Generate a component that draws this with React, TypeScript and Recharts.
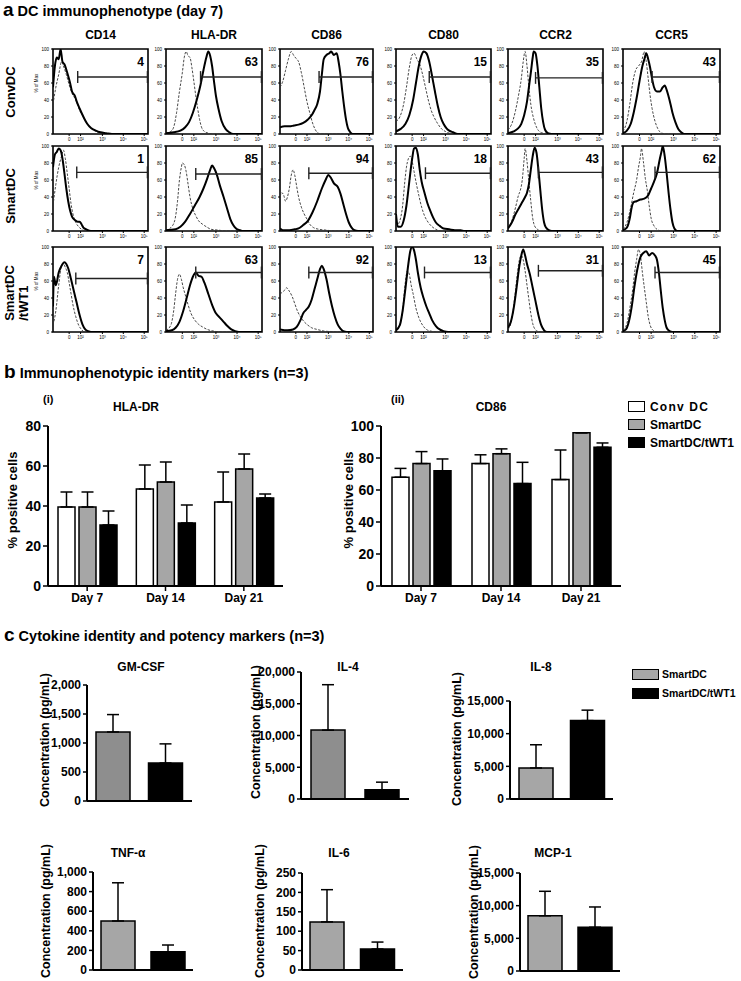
import React from 'react';
import {
  LineChart,
  Line,
  XAxis,
  YAxis,
  ReferenceLine,
  ReferenceArea,
  BarChart,
  Bar,
  ErrorBar,
  Cell,
} from 'recharts';

type Pt = [number, number];

const FONT = '"Liberation Sans", Arial, Helvetica, sans-serif';

// ---------- a: flow cytometry histograms (day 7) ----------
const MARKERS = ['CD14', 'HLA-DR', 'CD86', 'CD80', 'CCR2', 'CCR5'];
const PCT_POSITIVE = [
  [4, 63, 76, 15, 35, 43],
  [1, 85, 94, 18, 43, 62],
  [7, 63, 92, 13, 31, 45],
];
const GATE_START = [
  [26, 36, 42, 35, 29, 30],
  [25, 31, 31, 31, 32, 33],
  [24, 31, 31, 30, 32, 33],
];
const GATE_LEVEL = [
  [67, 67, 67, 67, 66, 67],
  [69, 67, 68, 68, 69, 69],
  [63, 70, 70, 70, 72, 70],
];
const FL_TICKS = [17, 29, 52, 74, 96];
const FL_TICK_LABELS = ['0', '10²', '10³', '10⁴', '10⁵'];
const PCT_MAX_TICKS = [0, 20, 40, 60, 80, 100];

// solid = stained, dashed = isotype; [fluorescence position, % of max]
const CONV_SOLID: Pt[][] = [
  [[0, 55], [2, 80], [4, 90], [6, 88], [8, 100], [10, 85], [12, 82], [15, 72], [18, 60], [20, 50], [23, 45], [25, 38], [28, 30], [30, 25], [33, 18], [36, 12], [40, 7], [45, 4], [50, 2], [56, 1], [62, 0], [100, 0]],
  [[0, 1], [8, 2], [15, 4], [20, 8], [24, 14], [28, 25], [32, 40], [36, 58], [39, 75], [42, 90], [44, 97], [46, 92], [48, 80], [50, 62], [52, 45], [55, 28], [58, 15], [62, 6], [66, 2], [70, 0], [100, 0]],
  [[0, 8], [5, 9], [10, 9], [15, 10], [20, 11], [25, 13], [30, 17], [34, 22], [37, 28], [40, 35], [43, 50], [45, 70], [47, 88], [50, 93], [53, 95], [55, 97], [58, 93], [61, 95], [63, 85], [65, 70], [67, 50], [69, 32], [71, 17], [73, 7], [75, 3], [78, 0], [100, 0]],
  [[0, 3], [5, 6], [10, 12], [14, 22], [18, 40], [21, 60], [24, 80], [27, 93], [29, 97], [32, 95], [35, 85], [38, 68], [41, 50], [44, 33], [47, 20], [50, 12], [53, 7], [56, 4], [60, 2], [65, 0], [100, 0]],
  [[0, 1], [6, 3], [10, 6], [14, 12], [17, 22], [20, 38], [22, 55], [24, 72], [26, 90], [27, 97], [29, 95], [31, 80], [33, 55], [35, 30], [37, 14], [39, 5], [42, 1], [46, 0], [100, 0]],
  [[0, 1], [4, 4], [8, 12], [11, 25], [14, 42], [17, 62], [20, 80], [22, 88], [24, 95], [26, 88], [28, 78], [30, 65], [32, 55], [35, 50], [38, 50], [41, 55], [43, 57], [45, 52], [47, 44], [49, 35], [51, 25], [54, 14], [57, 6], [60, 2], [63, 0], [100, 0]],
];
const CONV_DASHED: Pt[][] = [
  [[0, 35], [3, 55], [6, 70], [9, 85], [11, 80], [14, 70], [17, 58], [20, 48], [24, 40], [28, 28], [32, 20], [36, 12], [40, 7], [45, 3], [50, 1], [56, 0], [100, 0]],
  [[0, 1], [5, 3], [8, 8], [11, 25], [14, 50], [17, 72], [19, 90], [21, 97], [23, 92], [25, 90], [27, 78], [29, 62], [31, 45], [33, 30], [35, 17], [37, 8], [40, 3], [44, 1], [50, 0], [100, 0]],
  [[0, 55], [3, 62], [6, 75], [9, 88], [12, 97], [15, 92], [18, 88], [20, 85], [23, 72], [26, 55], [29, 38], [32, 25], [35, 13], [38, 5], [41, 1], [45, 0], [100, 0]],
  [[0, 15], [4, 20], [8, 35], [11, 55], [14, 78], [17, 93], [19, 95], [22, 88], [25, 82], [28, 70], [31, 55], [34, 40], [37, 28], [40, 20], [44, 12], [48, 6], [52, 3], [56, 1], [62, 0], [100, 0]],
  [[0, 5], [4, 12], [8, 28], [11, 45], [14, 65], [16, 85], [18, 97], [20, 80], [22, 55], [24, 35], [27, 18], [30, 8], [33, 3], [37, 1], [42, 0], [100, 0]],
  [[0, 3], [4, 15], [7, 35], [10, 60], [13, 75], [16, 80], [19, 85], [22, 97], [24, 85], [26, 65], [28, 45], [30, 30], [33, 15], [36, 6], [40, 1], [45, 0], [100, 0]],
];
const SMART_SOLID: Pt[][] = [
  [[0, 75], [2, 90], [4, 93], [6, 97], [8, 95], [10, 85], [12, 68], [14, 50], [16, 35], [18, 24], [20, 17], [23, 13], [26, 11], [28, 11], [30, 8], [32, 4], [35, 2], [40, 0], [100, 0]],
  [[0, 1], [10, 2], [15, 5], [20, 11], [25, 20], [30, 30], [35, 40], [39, 50], [43, 62], [46, 72], [48, 77], [50, 74], [53, 66], [56, 54], [60, 40], [64, 25], [67, 14], [70, 7], [73, 3], [77, 1], [80, 0], [100, 0]],
  [[0, 3], [3, 1], [10, 1], [16, 2], [20, 3], [25, 7], [30, 12], [35, 22], [40, 35], [45, 50], [49, 60], [52, 66], [55, 62], [58, 56], [62, 52], [65, 44], [68, 32], [71, 20], [74, 10], [77, 4], [80, 1], [84, 0], [100, 0]],
  [[0, 20], [2, 5], [5, 5], [8, 12], [11, 30], [14, 58], [17, 85], [19, 97], [21, 98], [23, 90], [25, 72], [27, 58], [30, 45], [33, 33], [36, 24], [39, 16], [42, 10], [46, 6], [50, 3], [56, 2], [62, 1], [68, 1], [72, 0], [100, 0]],
  [[0, 3], [4, 10], [8, 20], [12, 28], [15, 34], [18, 40], [20, 45], [22, 55], [24, 72], [26, 88], [28, 98], [30, 92], [32, 72], [34, 48], [36, 25], [38, 10], [40, 4], [43, 1], [46, 0], [100, 0]],
  [[0, 1], [4, 4], [7, 15], [9, 28], [11, 34], [14, 35], [18, 37], [22, 38], [26, 42], [29, 50], [32, 58], [35, 68], [38, 85], [40, 95], [41, 100], [43, 88], [45, 68], [47, 45], [49, 25], [51, 10], [53, 3], [56, 0], [100, 0]],
];
const SMART_DASHED: Pt[][] = [
  [[0, 30], [3, 55], [6, 75], [9, 88], [11, 95], [13, 85], [15, 68], [17, 50], [19, 32], [21, 20], [24, 10], [27, 5], [30, 2], [35, 0], [100, 0]],
  [[0, 1], [5, 4], [9, 12], [12, 35], [14, 60], [16, 75], [17, 80], [19, 78], [21, 70], [23, 55], [25, 40], [28, 26], [31, 18], [34, 12], [38, 8], [42, 5], [47, 2], [55, 1], [62, 0], [100, 0]],
  [[0, 40], [2, 45], [4, 42], [6, 35], [8, 40], [10, 50], [12, 65], [14, 72], [16, 65], [18, 52], [20, 40], [23, 28], [26, 20], [29, 14], [32, 8], [36, 4], [42, 2], [50, 1], [58, 0], [100, 0]],
  [[0, 5], [4, 12], [7, 30], [9, 55], [11, 75], [13, 85], [15, 88], [17, 82], [19, 70], [21, 58], [24, 42], [27, 28], [30, 18], [34, 10], [38, 5], [42, 2], [47, 0], [100, 0]],
  [[0, 3], [4, 12], [8, 28], [11, 42], [13, 48], [15, 60], [17, 85], [18, 97], [20, 82], [22, 58], [24, 35], [26, 15], [28, 6], [31, 2], [35, 0], [100, 0]],
  [[0, 2], [4, 10], [8, 28], [11, 45], [14, 60], [16, 75], [18, 88], [19, 97], [21, 82], [23, 62], [25, 48], [27, 30], [29, 15], [32, 6], [35, 2], [40, 0], [100, 0]],
];
const WT1_SOLID: Pt[][] = [
  [[0, 30], [1, 65], [3, 55], [6, 70], [9, 78], [12, 82], [14, 80], [16, 75], [19, 62], [22, 48], [25, 34], [28, 20], [31, 9], [34, 3], [37, 1], [40, 0], [100, 0]],
  [[0, 1], [6, 2], [10, 5], [14, 12], [18, 25], [22, 42], [25, 55], [28, 65], [31, 70], [34, 66], [37, 65], [40, 58], [44, 45], [48, 32], [52, 22], [56, 17], [60, 12], [64, 7], [68, 3], [72, 1], [76, 0], [100, 0]],
  [[0, 3], [8, 2], [14, 3], [18, 6], [22, 14], [25, 22], [28, 26], [31, 30], [34, 38], [37, 50], [40, 62], [43, 74], [45, 78], [47, 74], [50, 62], [53, 45], [56, 30], [59, 18], [62, 9], [65, 4], [68, 1], [72, 0], [100, 0]],
  [[0, 2], [4, 8], [7, 25], [10, 52], [13, 80], [15, 95], [17, 100], [19, 96], [21, 85], [23, 70], [26, 52], [29, 40], [32, 30], [35, 22], [38, 14], [42, 7], [46, 3], [50, 1], [55, 0], [100, 0]],
  [[0, 5], [3, 12], [6, 28], [9, 52], [12, 78], [14, 90], [16, 97], [18, 90], [20, 80], [23, 68], [26, 52], [29, 36], [32, 20], [35, 8], [38, 2], [41, 0], [100, 0]],
  [[0, 1], [3, 3], [6, 12], [9, 30], [12, 55], [15, 75], [18, 88], [21, 93], [24, 95], [27, 90], [30, 93], [33, 90], [35, 85], [37, 70], [39, 48], [41, 28], [43, 14], [45, 5], [48, 1], [51, 0], [100, 0]],
];
const WT1_DASHED: Pt[][] = [
  [[0, 8], [3, 25], [6, 55], [9, 78], [11, 80], [13, 76], [15, 70], [17, 58], [19, 45], [21, 32], [24, 18], [27, 8], [30, 3], [33, 0], [100, 0]],
  [[0, 2], [5, 8], [8, 25], [10, 45], [12, 62], [14, 68], [16, 62], [18, 52], [20, 44], [23, 32], [26, 22], [30, 14], [34, 9], [38, 6], [43, 3], [50, 1], [58, 0], [100, 0]],
  [[0, 45], [4, 48], [7, 52], [10, 48], [13, 42], [16, 33], [19, 24], [22, 18], [26, 12], [30, 8], [34, 5], [40, 3], [48, 1], [56, 0.5], [62, 0], [100, 0]],
  [[0, 2], [4, 8], [7, 25], [9, 50], [11, 68], [12, 72], [14, 68], [16, 55], [18, 45], [21, 28], [24, 17], [28, 8], [32, 3], [37, 1], [42, 0], [100, 0]],
  [[0, 3], [4, 15], [7, 40], [10, 70], [12, 85], [14, 90], [16, 85], [18, 72], [20, 55], [22, 38], [24, 22], [26, 10], [28, 4], [31, 1], [35, 0], [100, 0]],
  [[0, 2], [4, 10], [7, 28], [10, 50], [12, 70], [14, 85], [16, 97], [18, 90], [20, 70], [22, 52], [24, 35], [26, 18], [28, 8], [31, 2], [35, 0], [100, 0]],
];
const HIST_SOLID = [CONV_SOLID, SMART_SOLID, WT1_SOLID];
const HIST_DASHED = [CONV_DASHED, SMART_DASHED, WT1_DASHED];

// ---------- b: identity markers (n=3) ----------
const DAYS = ['Day 7', 'Day 14', 'Day 21'];
const HLA_CONV = [39.5, 48.5, 42];
const HLA_CONV_ERR = [7.5, 12, 15];
const HLA_SMART = [39.5, 52, 58.5];
const HLA_SMART_ERR = [7.5, 10, 7.5];
const HLA_WT1 = [30.5, 31.5, 44];
const HLA_WT1_ERR = [7, 9, 2];
const CD86_CONV = [68, 76.5, 66.5];
const CD86_CONV_ERR = [5.5, 5.5, 18.5];
const CD86_SMART = [76.5, 82.7, 95.8];
const CD86_SMART_ERR = [7.5, 3, 0];
const CD86_WT1 = [72, 64, 86.7];
const CD86_WT1_ERR = [7.4, 13.3, 2.7];

// ---------- c: cytokines (n=3), [SmartDC, SmartDC/tWT1] ----------
const GMCSF = [1190, 655];
const GMCSF_ERR = [300, 330];
const IL4 = [10850, 1450];
const IL4_ERR = [7150, 1200];
const IL8 = [4750, 12000];
const IL8_ERR = [3550, 1600];
const TNFA = [500, 185];
const TNFA_ERR = [390, 70];
const IL6 = [124, 54];
const IL6_ERR = [83, 18];
const MCP1 = [8450, 6700];
const MCP1_ERR = [3750, 3100];

const GREY = '#a6a6a6';
const DARK_GREY = '#8e8e8e';

const BOX_LEFT = [53, 166, 280, 396, 508, 623];
const BOX_W = [95, 96, 93, 95, 95, 97];
const ROW_TOP = [49, 146, 247];
const BOX_H = 85;

function Txt({ x, y, size, anchor = 'start', bold = true, spacing, children }: any) {
  const tx = anchor === 'middle' ? '-50%' : anchor === 'end' ? '-100%' : '0';
  return (
    <div
      style={{
        position: 'absolute',
        left: x,
        top: y,
        fontSize: size,
        fontWeight: bold ? 'bold' : 'normal',
        transform: `translate(${tx}, -50%)`,
        whiteSpace: 'pre',
        lineHeight: 1.05,
        letterSpacing: spacing,
      }}
    >
      {children}
    </div>
  );
}

function VTxt({ x, y, size, bold = true, children }: any) {
  return (
    <div
      style={{
        position: 'absolute',
        left: x,
        top: y,
        fontSize: size,
        fontWeight: bold ? 'bold' : 'normal',
        transform: 'translate(-50%, -50%) rotate(-90deg)',
        whiteSpace: 'pre',
        lineHeight: 1.1,
        textAlign: 'left',
      }}
    >
      {children}
    </div>
  );
}

function Histogram({ row, col }: { row: number; col: number }) {
  const w = BOX_W[col];
  const solid = HIST_SOLID[row][col].map(([x, y]) => ({ x, y }));
  const dashed = HIST_DASHED[row][col].map(([x, y]) => ({ x, y }));
  const gs = GATE_START[row][col];
  const gl = GATE_LEVEL[row][col];
  const tickStyle = { fontSize: 4.5, fill: '#000' };
  return (
    <div style={{ position: 'absolute', left: BOX_LEFT[col] - 18, top: ROW_TOP[row] - 3 }}>
      <LineChart width={w + 20} height={BOX_H + 3 + 12} margin={{ top: 3, right: 2, left: 0, bottom: 0 }}>
        <XAxis
          type="number"
          dataKey="x"
          domain={[0, 100]}
          allowDataOverflow
          ticks={FL_TICKS}
          interval={0}
          tickFormatter={(v: number) => FL_TICK_LABELS[FL_TICKS.indexOf(v)]}
          axisLine={false}
          tickLine={{ stroke: '#000' }}
          tickSize={2}
          tick={tickStyle}
          height={12}
        />
        <YAxis
          type="number"
          domain={[0, 100]}
          allowDataOverflow
          ticks={PCT_MAX_TICKS}
          interval={0}
          width={18}
          axisLine={false}
          tickLine={{ stroke: '#000' }}
          tickSize={2}
          tick={tickStyle}
        />
        <Line
          data={dashed}
          dataKey="y"
          type="monotone"
          stroke="#333"
          strokeWidth={0.9}
          strokeDasharray="2.5 1.5"
          dot={false}
          isAnimationActive={false}
        />
        <Line
          data={solid}
          dataKey="y"
          type="monotone"
          stroke="#000"
          strokeWidth={2}
          dot={false}
          isAnimationActive={false}
        />
        <ReferenceLine segment={[{ x: gs, y: gl }, { x: 100, y: gl }]} stroke="#222" strokeWidth={1.4} />
        <ReferenceLine segment={[{ x: gs, y: gl - 7 }, { x: gs, y: gl + 7 }]} stroke="#222" strokeWidth={1.4} />
        <ReferenceLine segment={[{ x: 99.5, y: gl - 7 }, { x: 99.5, y: gl + 7 }]} stroke="#222" strokeWidth={1.6} />
        <ReferenceArea x1={0} x2={100} y1={0} y2={100} fill="none" stroke="#000" strokeWidth={1.6} />
      </LineChart>
      <Txt x={w + 14} y={16} size={12} anchor="end">
        {PCT_POSITIVE[row][col]}
      </Txt>
    </div>
  );
}

function DayBars({ left, plotW, max, ticks, conv, convErr, smart, smartErr, wt1, wt1Err }: any) {
  const data = DAYS.map((day, i) => ({
    day,
    conv: conv[i],
    convErr: [0, convErr[i]],
    smart: smart[i],
    smartErr: [0, smartErr[i]],
    wt1: wt1[i],
    wt1Err: [0, wt1Err[i]],
  }));
  const eb = { width: 6, stroke: '#000', strokeWidth: 1.5 };
  return (
    <div style={{ position: 'absolute', left, top: 416 }}>
      <BarChart
        width={46 + plotW + 4}
        height={200}
        data={data}
        margin={{ top: 10, right: 4, left: 0, bottom: 0 }}
        barSize={17}
        barGap={4}
      >
        <XAxis
          dataKey="day"
          interval={0}
          axisLine={{ stroke: '#000', strokeWidth: 2 }}
          tickLine={{ stroke: '#000', strokeWidth: 1.5 }}
          tickSize={5}
          tick={{ fontSize: 12, fontWeight: 'bold', fill: '#000' }}
          height={30}
        />
        <YAxis
          type="number"
          domain={[0, max]}
          ticks={ticks}
          interval={0}
          width={46}
          axisLine={{ stroke: '#000', strokeWidth: 2 }}
          tickLine={{ stroke: '#000', strokeWidth: 1.5 }}
          tickSize={5}
          tick={{ fontSize: 14, fontWeight: 'bold', fill: '#000' }}
        />
        <Bar dataKey="conv" fill="#fff" stroke="#000" strokeWidth={1.5} isAnimationActive={false}>
          <ErrorBar dataKey="convErr" direction="y" {...eb} />
        </Bar>
        <Bar dataKey="smart" fill={GREY} stroke="#000" strokeWidth={1.5} isAnimationActive={false}>
          <ErrorBar dataKey="smartErr" direction="y" {...eb} />
        </Bar>
        <Bar dataKey="wt1" fill="#000" stroke="#000" strokeWidth={1.5} isAnimationActive={false}>
          <ErrorBar dataKey="wt1Err" direction="y" {...eb} />
        </Bar>
      </BarChart>
    </div>
  );
}

function CytoBars({ plotLeft, plotRight, plotTop, plotBottom, max, ticks, values, errs, grey }: any) {
  const data = ['SmartDC', 'SmartDC/tWT1'].map((g, i) => ({ g, v: values[i], e: [0, errs[i]] }));
  const plotW = plotRight - plotLeft;
  const plotH = plotBottom - plotTop;
  return (
    <div style={{ position: 'absolute', left: plotLeft - 52, top: plotTop - 8 }}>
      <BarChart
        width={52 + plotW + 4}
        height={8 + plotH + 4 + 10}
        data={data}
        margin={{ top: 8, right: 4, left: 0, bottom: 10 }}
        barSize={34}
      >
        <XAxis dataKey="g" tick={false} tickLine={false} axisLine={{ stroke: '#000', strokeWidth: 2 }} height={4} />
        <YAxis
          type="number"
          domain={[0, max]}
          ticks={ticks}
          interval={0}
          width={52}
          tickFormatter={(v: number) => v.toLocaleString('en-US')}
          axisLine={{ stroke: '#000', strokeWidth: 2 }}
          tickLine={{ stroke: '#000', strokeWidth: 1.5 }}
          tickSize={4}
          tick={{ fontSize: 12, fontWeight: 'bold', fill: '#000' }}
        />
        <Bar dataKey="v" stroke="#000" strokeWidth={1.5} isAnimationActive={false}>
          {data.map((d, i) => (
            <Cell key={d.g} fill={i === 0 ? grey : '#000'} />
          ))}
          <ErrorBar dataKey="e" direction="y" width={6} stroke="#000" strokeWidth={1.5} />
        </Bar>
      </BarChart>
    </div>
  );
}

function LegendRow({ x, y, w, fill, label, spacing, size = 12, gap = 5 }: any) {
  return (
    <>
      <div
        style={{
          position: 'absolute',
          left: x,
          top: y - 6,
          width: w,
          height: 11,
          background: fill,
          border: '1.5px solid #000',
          boxSizing: 'border-box',
        }}
      />
      <Txt x={x + w + gap} y={y} size={size} spacing={spacing}>
        {label}
      </Txt>
    </>
  );
}

export default function App() {
  return (
    <div
      style={{
        position: 'absolute',
        left: 0,
        top: 0,
        width: 741,
        height: 981,
        background: '#fff',
        fontFamily: FONT,
        color: '#000',
        overflow: 'hidden',
      }}
    >
      {/* a */}
      <Txt x={3} y={10} size={14.5}>
        <span style={{ fontSize: 19 }}>a</span> DC immunophenotype (day 7)
      </Txt>
      {MARKERS.map((m, c) => (
        <Txt key={m} x={BOX_LEFT[c] + BOX_W[c] / 2} y={35} size={12} anchor="middle">
          {m}
        </Txt>
      ))}
      <VTxt x={11} y={92} size={13}>ConvDC</VTxt>
      <VTxt x={11} y={196} size={13}>SmartDC</VTxt>
      <VTxt x={17} y={293} size={13}>{'SmartDC\n/tWT1'}</VTxt>
      {ROW_TOP.map((t, r) => (
        <VTxt key={r} x={37} y={t + 34} size={4.5} bold={false}>% of Max</VTxt>
      ))}
      {ROW_TOP.map((_, r) => MARKERS.map((m, c) => <Histogram key={`${r}-${m}`} row={r} col={c} />))}

      {/* b */}
      <Txt x={4} y={372} size={14.5}>
        <span style={{ fontSize: 19 }}>b</span> Immunophenotypic identity markers (n=3)
      </Txt>
      <Txt x={43} y={400} size={11}>(i)</Txt>
      <Txt x={136} y={407} size={12} anchor="middle">HLA-DR</Txt>
      <Txt x={391} y={400} size={11}>(ii)</Txt>
      <Txt x={491} y={407} size={12} anchor="middle">CD86</Txt>
      <VTxt x={13} y={500} size={13}>% positive cells</VTxt>
      <VTxt x={349} y={500} size={13}>% positive cells</VTxt>
      <DayBars
        left={2}
        plotW={235}
        max={80}
        ticks={[0, 20, 40, 60, 80]}
        conv={HLA_CONV}
        convErr={HLA_CONV_ERR}
        smart={HLA_SMART}
        smartErr={HLA_SMART_ERR}
        wt1={HLA_WT1}
        wt1Err={HLA_WT1_ERR}
      />
      <DayBars
        left={335}
        plotW={240}
        max={100}
        ticks={[0, 20, 40, 60, 80, 100]}
        conv={CD86_CONV}
        convErr={CD86_CONV_ERR}
        smart={CD86_SMART}
        smartErr={CD86_SMART_ERR}
        wt1={CD86_WT1}
        wt1Err={CD86_WT1_ERR}
      />
      <LegendRow x={628} y={407} w={17} fill="#fff" label="Conv DC" spacing={1.2} />
      <LegendRow x={628} y={425} w={17} fill={GREY} label="SmartDC" />
      <LegendRow x={628} y={443} w={17} fill="#000" label="SmartDC/tWT1" />

      {/* c */}
      <Txt x={4} y={635} size={14.5}>
        <span style={{ fontSize: 19 }}>c</span> Cytokine identity and potency markers (n=3)
      </Txt>
      <Txt x={141} y={667} size={12} anchor="middle">GM-CSF</Txt>
      <Txt x={348} y={667} size={12} anchor="middle">IL-4</Txt>
      <Txt x={541} y={667} size={12} anchor="middle">IL-8</Txt>
      <Txt x={128} y={853} size={12} anchor="middle">TNF-α</Txt>
      <Txt x={339} y={853} size={12} anchor="middle">IL-6</Txt>
      <Txt x={553} y={853} size={12} anchor="middle">MCP-1</Txt>
      <VTxt x={46} y={740} size={12.5}>Concentration (pg/mL)</VTxt>
      <VTxt x={257} y={732} size={12.5}>Concentration (pg/mL)</VTxt>
      <VTxt x={458} y={739} size={12.5}>Concentration (pg/mL)</VTxt>
      <VTxt x={47} y={911} size={12.5}>Concentration (pg/mL)</VTxt>
      <VTxt x={261} y={911} size={12.5}>Concentration (pg/mL)</VTxt>
      <VTxt x={475} y={912} size={12.5}>Concentration (pg/mL)</VTxt>
      <CytoBars plotLeft={87} plotRight={192} plotTop={685} plotBottom={801} max={2000} ticks={[0, 500, 1000, 1500, 2000]} values={GMCSF} errs={GMCSF_ERR} grey={DARK_GREY} />
      <CytoBars plotLeft={301} plotRight={409} plotTop={672} plotBottom={799} max={20000} ticks={[0, 5000, 10000, 15000, 20000]} values={IL4} errs={IL4_ERR} grey={DARK_GREY} />
      <CytoBars plotLeft={510} plotRight={613} plotTop={701} plotBottom={799} max={15000} ticks={[0, 5000, 10000, 15000]} values={IL8} errs={IL8_ERR} grey={GREY} />
      <CytoBars plotLeft={93} plotRight={193} plotTop={872} plotBottom={970} max={1000} ticks={[0, 200, 400, 600, 800, 1000]} values={TNFA} errs={TNFA_ERR} grey={GREY} />
      <CytoBars plotLeft={302} plotRight={403} plotTop={873} plotBottom={970} max={250} ticks={[0, 50, 100, 150, 200, 250]} values={IL6} errs={IL6_ERR} grey={GREY} />
      <CytoBars plotLeft={520} plotRight={620} plotTop={873} plotBottom={971} max={15000} ticks={[0, 5000, 10000, 15000]} values={MCP1} errs={MCP1_ERR} grey={GREY} />
      <LegendRow x={632} y={675} w={27} fill={GREY} label="SmartDC" size={10.5} gap={3} />
      <LegendRow x={632} y={694} w={27} fill="#000" label="SmartDC/tWT1" size={10.5} gap={3} />
    </div>
  );
}
